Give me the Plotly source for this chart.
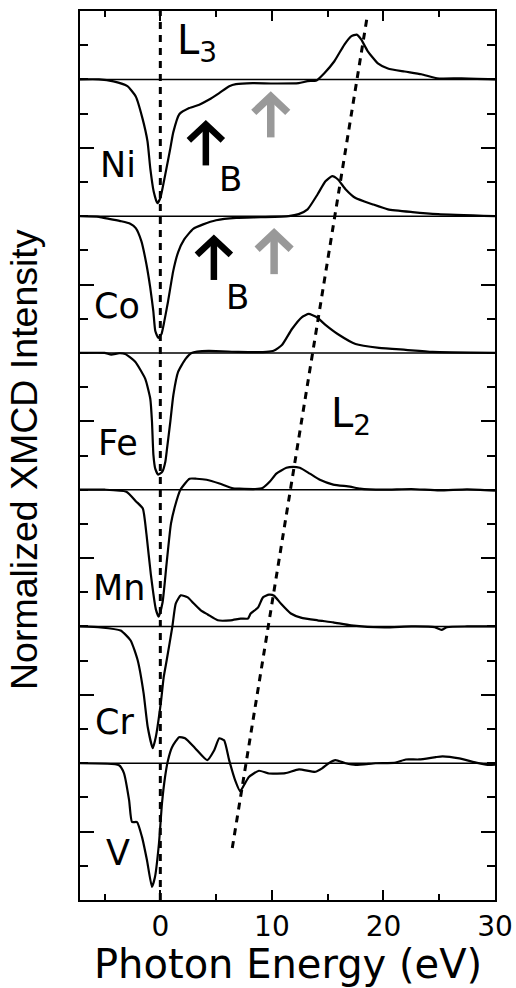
import plotly.graph_objects as go

# Stacked XMCD spectra; each element drawn on its own baseline
elements = ["Ni", "Co", "Fe", "Mn", "Cr", "V"]
offsets = [24, 20, 16, 12, 8, 4]

ni_e = [-7.2, -5.5, -4.2, -2.95, -2.2, -1.6, -1.15, -0.9, -0.6, -0.27, 0.0, 0.45, 0.9, 1.16, 1.7,
        2.59, 3.49, 4.38, 5.28, 6.18, 6.78, 8.28, 10.0, 12.4, 13.2, 14.0, 14.7, 15.6, 16.5, 17.1,
        17.6, 18.0, 18.6, 19.5, 20.4, 21.9, 23.4, 24.8, 27.0, 30.0]
ni_i = [0.0, 0.0, -0.06, -0.2, -0.5, -1.14, -1.81, -2.6, -3.27, -3.62, -3.47, -2.77, -2.01, -1.55, -1.02,
        -0.84, -0.74, -0.59, -0.4, -0.2, -0.14, -0.11, -0.12, -0.11, -0.05, -0.03, 0.18, 0.53, 1.02, 1.26,
        1.31, 1.17, 0.82, 0.47, 0.32, 0.23, 0.15, 0.03, 0.03, 0.0]

co_e = [-7.2, -5.5, -4.6, -3.5, -2.7, -2.2, -1.7, -1.25, -0.9, -0.63, -0.45, -0.18, 0.1, 0.36, 0.7,
        1.16, 1.6, 2.14, 2.95, 3.84, 5.0, 6.8, 9.0, 11.5, 12.4, 13.2, 14.1, 14.8, 15.4, 15.9, 16.6,
        17.5, 19.0, 20.4, 22.6, 24.9, 30.0]
co_i = [0.0, -0.02, -0.08, -0.15, -0.22, -0.35, -0.73, -1.4, -2.1, -2.77, -3.36, -3.56, -3.45, -3.07, -2.48,
        -1.6, -1.05, -0.68, -0.37, -0.24, -0.12, -0.05, -0.03, 0.0, 0.06, 0.2, 0.64, 1.02, 1.17, 1.08, 0.79,
        0.53, 0.35, 0.2, 0.12, 0.06, 0.0]

fe_e = [-7.2, -5.0, -4.4, -3.7, -3.15, -2.25, -1.35, -0.9, -0.75, -0.62, -0.45, -0.18, 0.18, 0.45, 0.6,
        0.9, 1.17, 1.6, 2.25, 2.8, 4.3, 7.0, 9.5, 10.2, 10.9, 11.8, 12.7, 13.3, 14.0, 14.8, 16.0, 17.5,
        19.6, 22.0, 24.4, 30.0]
fe_i = [0.0, 0.0, -0.05, -0.01, -0.03, -0.26, -0.76, -1.34, -2.0, -2.98, -3.39, -3.56, -3.47, -3.18, -2.8,
        -2.0, -1.23, -0.55, -0.18, 0.0, 0.06, 0.03, 0.03, 0.07, 0.23, 0.7, 1.05, 1.14, 1.05, 0.82, 0.53, 0.26,
        0.15, 0.09, 0.03, 0.0]

mn_e = [-7.2, -5.0, -3.05, -2.15, -1.57, -1.24, -0.85, -0.4, -0.15, 0.2, 0.55, 0.95, 1.3, 1.8, 2.62,
        3.25, 4.15, 5.3, 6.5, 7.1, 8.5, 9.2, 9.8, 10.4, 11.3, 11.9, 12.5, 13.4, 14.3, 15.5, 17.0, 17.9,
        20.0, 22.5, 25.0, 27.5, 30.0]
mn_i = [0.0, 0.0, -0.06, -0.35, -0.55, -1.31, -2.48, -3.5, -3.71, -3.3, -2.2, -1.0, -0.5, 0.0, 0.32,
        0.32, 0.29, 0.18, 0.04, 0.03, 0.02, 0.06, 0.23, 0.47, 0.64, 0.67, 0.64, 0.47, 0.29, 0.15, 0.09, 0.03,
        0.0, 0.02, -0.02, 0.01, -0.03]

cr_e = [-7.2, -5.35, -3.56, -2.66, -2.03, -1.5, -1.13, -0.68, -0.41, 0.04, 0.3, 0.57, 1.08, 1.38, 1.83,
        2.46, 3.0, 3.63, 4.25, 5.15, 6.3, 7.2, 7.85, 8.1, 8.75, 9.2, 9.74, 10.2, 10.8, 11.7, 12.6,
        14.1, 15.5, 17.1, 20.1, 22.5, 24.6, 25.2, 25.7, 27.5, 30.0]
cr_i = [0.0, -0.03, -0.12, -0.41, -0.99, -1.95, -2.94, -3.56, -3.24, -2.25, -1.49, -0.99, 0.0, 0.67, 0.91,
        0.85, 0.67, 0.47, 0.35, 0.18, 0.18, 0.23, 0.23, 0.38, 0.55, 0.85, 0.93, 0.9, 0.67, 0.38, 0.26,
        0.18, 0.12, 0.03, -0.03, 0.0, -0.02, -0.1, -0.02, 0.0, 0.0]

v_e = [-7.2, -3.7, -3.26, -2.8, -2.54, -2.09, -1.64, -1.2, -0.75, -0.48, -0.12, 0.15, 0.42, 0.69, 1.05,
       1.68, 2.22, 3.12, 4.2, 4.83, 5.28, 5.72, 6.17, 6.71, 7.16, 7.6, 7.94, 8.84, 9.74, 11.2, 12.43,
       13.9, 14.5, 15.1, 15.7, 16.6, 17.5, 19.3, 21.1, 22.0, 23.2, 24.7, 25.3, 26.8, 28.3, 29.5, 30.0]
v_i = [0.0, -0.06, -0.29, -1.08, -1.72, -1.72, -2.16, -2.83, -3.62, -3.33, -2.34, -1.17, -0.41, 0.09, 0.47,
       0.76, 0.73, 0.44, 0.09, 0.38, 0.73, 0.67, 0.09, -0.5, -0.82, -0.58, -0.4, -0.22, -0.3, -0.29, -0.18,
       -0.25, -0.15, 0.0, 0.09, 0.0, -0.05, 0.0, 0.02, 0.11, 0.11, 0.18, 0.2, 0.14, 0.02, -0.05, -0.04]

energies = [ni_e, co_e, fe_e, mn_e, cr_e, v_e]
intensities = [ni_i, co_i, fe_i, mn_i, cr_i, v_i]

# Guide lines through the L3 and L2 peaks
l3_guide_e = [0.0, 0.0]
l3_guide_y = [0.0, 26.0]
l2_guide_e = [6.45, 18.5]
l2_guide_y = [1.52, 25.75]

x_range = [-7.2, 30.0]
y_range = [0.0, 26.0]
x_major = [0, 10, 20, 30]
x_minor = [-5, 5, 15, 25]
y_major = [2, 6, 10, 14, 18, 22]
y_minor = [v for v in range(1, 26) if v not in y_major]

# Element label positions (energy, stacked intensity)
label_pos = [(-3.82, 21.5), (-3.84, 17.38), (-3.8, 13.36), (-3.68, 9.12), (-4.11, 5.2), (-3.82, 1.38)]

# Field-direction arrow tips (energy, stacked intensity) and colours
arrow_tips = [(4.08, 22.8), (9.9, 23.62), (4.8, 19.45), (10.2, 19.62)]
arrow_colors = ["black", "#999999", "black", "#999999"]

TEXT_FONT = "DejaVu Sans"

fig = go.Figure()

for off in offsets:
    fig.add_shape(type="line", xref="paper", x0=0, x1=1, yref="y", y0=off, y1=off,
                  line=dict(color="black", width=1.5), layer="below")

for e, i, off, name in zip(energies, intensities, offsets, elements):
    fig.add_trace(go.Scatter(x=e, y=[v + off for v in i], mode="lines", name=name,
                             line=dict(color="black", width=2.2, shape="spline", smoothing=0.5),
                             showlegend=False))

for gx, gy in [(l3_guide_e, l3_guide_y), (l2_guide_e, l2_guide_y)]:
    fig.add_trace(go.Scatter(x=gx, y=gy, mode="lines", showlegend=False,
                             line=dict(color="black", width=3, dash="7px,6px")))

# Arrows drawn as pixel-sized shapes anchored at their tips
for (tx, ty), col in zip(arrow_tips, arrow_colors):
    w = 6.5 if col == "black" else 7.5
    fig.add_shape(type="path", xref="x", yref="y", xsizemode="pixel", ysizemode="pixel",
                  xanchor=tx, yanchor=ty, path="M0,-45 L0,-5",
                  line=dict(color=col, width=w))
    fig.add_shape(type="path", xref="x", yref="y", xsizemode="pixel", ysizemode="pixel",
                  xanchor=tx, yanchor=ty, path="M-17,-20 L0,-4 L17,-20",
                  line=dict(color=col, width=w))

annotations = []
for name, (lx, ly) in zip(elements, label_pos):
    annotations.append(dict(x=lx, y=ly, text=name, showarrow=False, xanchor="center", yanchor="middle",
                             font=dict(family=TEXT_FONT, size=35, color="black")))

annotations.append(dict(x=1.3, y=25.05, text="L<sub>3</sub>", showarrow=False, xanchor="left",
                        yanchor="middle", font=dict(family=TEXT_FONT, size=40, color="black")))
annotations.append(dict(x=15.1, y=14.15, text="L<sub>2</sub>", showarrow=False, xanchor="left",
                        yanchor="middle", font=dict(family=TEXT_FONT, size=40, color="black")))

annotations.append(dict(x=6.3, y=21.1, text="B", showarrow=False, xanchor="center", yanchor="middle",
                        font=dict(family=TEXT_FONT, size=34, color="black")))
annotations.append(dict(x=6.88, y=17.64, text="B", showarrow=False, xanchor="center", yanchor="middle",
                        font=dict(family=TEXT_FONT, size=34, color="black")))

annotations.append(dict(xref="paper", yref="paper", x=0.5, y=-0.0722, text="Photon Energy (eV)",
                        showarrow=False, xanchor="center", yanchor="middle",
                        font=dict(family=TEXT_FONT, size=40, color="black")))
annotations.append(dict(xref="paper", yref="paper", x=-0.135, y=0.496, text="Normalized XMCD Intensity",
                        showarrow=False, textangle=-90, xanchor="center", yanchor="middle",
                        font=dict(family="Liberation Sans, Arial", size=37.5, color="black")))

fig.update_layout(
    width=516, height=988,
    margin=dict(l=80, r=21, t=11, b=88, autoexpand=False),
    paper_bgcolor="white", plot_bgcolor="white",
    annotations=annotations,
    xaxis=dict(range=x_range, showgrid=False, zeroline=False, showline=True, linecolor="black",
               linewidth=2, mirror="allticks", ticks="inside", ticklen=10, tickwidth=1.5,
               tickcolor="black", tickvals=x_major, ticktext=[str(v) for v in x_major],
               tickfont=dict(family=TEXT_FONT, size=28, color="black"), automargin=False,
               minor=dict(tickvals=x_minor, ticks="inside", ticklen=6, tickwidth=1.5, tickcolor="black",
                          showgrid=False)),
    yaxis=dict(range=y_range, showgrid=False, zeroline=False, showline=True, linecolor="black",
               linewidth=2, mirror="allticks", ticks="inside", ticklen=14, tickwidth=1.5,
               tickcolor="black", tickvals=y_major, showticklabels=False, automargin=False,
               minor=dict(tickvals=y_minor, ticks="inside", ticklen=8, tickwidth=1.5, tickcolor="black",
                          showgrid=False)),
)

fig.write_html("out.html")
